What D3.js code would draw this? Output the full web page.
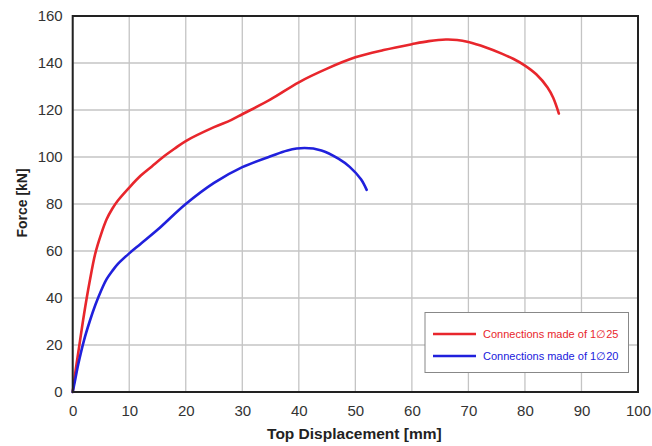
<!DOCTYPE html>
<html>
<head>
<meta charset="utf-8">
<script src="https://cdn.jsdelivr.net/npm/d3@7"></script>
<style>
  html, body { margin: 0; padding: 0; background: #fff; }
  svg { display: block; }
</style>
</head>
<body>
<svg id="chart" width="652" height="446"></svg>
<script>
// Force–displacement curves for the two connection types
const dispRed  = [0, 0.5, 1, 2, 3, 4, 5, 6, 7, 8, 10, 12, 14, 16, 18, 20, 25, 28, 30, 35, 40, 45, 50, 55, 60, 63, 66, 68, 70, 73, 76, 78, 80, 82, 84, 85, 86];
const forceRed = [0, 9, 17, 33, 47, 59, 67, 73.5, 78, 81.5, 87, 92, 96, 100, 103.5, 106.8, 112.7, 115.7, 118.2, 124.5, 131.8, 137.6, 142.4, 145.5, 148, 149.3, 150, 149.8, 148.9, 146.7, 143.9, 141.7, 138.9, 135.2, 129.6, 125.2, 118.5];

const dispBlue  = [0, 0.5, 1, 2, 3, 4, 5, 6, 7, 8, 10, 12, 15, 20, 25, 30, 35, 38, 41, 44, 47, 49, 51, 52];
const forceBlue = [0, 6, 12, 22, 30, 37, 43, 48, 51.5, 54.5, 59, 63, 69, 80, 89, 95.7, 100.3, 102.8, 103.8, 102.8, 99.3, 95.8, 90.5, 86];

const xTicks = [0, 10, 20, 30, 40, 50, 60, 70, 80, 90, 100];
const yTicks = [0, 20, 40, 60, 80, 100, 120, 140, 160];

const seriesNames  = ["Connections made of 1\u220525", "Connections made of 1\u220520"];
const seriesColors = ["#e8262c", "#2020dc"];

const svg = d3.select("#chart");
const margin = { left: 72.7, right: 14, top: 16, bottom: 54 };
const W = 652, H = 446;

const x = d3.scaleLinear().domain([0, 100]).range([margin.left, W - margin.right]);
const y = d3.scaleLinear().domain([0, 160]).range([H - margin.bottom, margin.top]);

// grid
const grid = svg.append("g");
grid.selectAll("line.v").data(xTicks).join("line")
  .attr("x1", d => x(d)).attr("x2", d => x(d))
  .attr("y1", y(0)).attr("y2", y(160))
  .attr("stroke", "#c4c4c4").attr("stroke-width", 1.3);
grid.selectAll("line.h").data(yTicks).join("line")
  .attr("x1", x(0)).attr("x2", x(100))
  .attr("y1", d => y(d)).attr("y2", d => y(d))
  .attr("stroke", "#c4c4c4").attr("stroke-width", 1.3);

// axes (labels only; the frame is drawn separately)
const xAxis = svg.append("g")
  .attr("transform", `translate(0,${y(0)})`)
  .call(d3.axisBottom(x).tickValues(xTicks).tickSize(0).tickPadding(13));
const yAxis = svg.append("g")
  .attr("transform", `translate(${x(0)},0)`)
  .call(d3.axisLeft(y).tickValues(yTicks).tickSize(0).tickPadding(10));
[xAxis, yAxis].forEach(a => {
  a.select(".domain").remove();
  a.selectAll("text")
    .attr("font-family", "'Liberation Sans', Arial, sans-serif")
    .attr("font-size", 15).attr("fill", "#333");
});

// curves
const line = d3.line().x(d => x(d[0])).y(d => y(d[1])).curve(d3.curveCatmullRom.alpha(0.5));
const series = [
  d3.zip(dispRed, forceRed),
  d3.zip(dispBlue, forceBlue)
];
svg.append("g").selectAll("path").data(series).join("path")
  .attr("d", line)
  .attr("fill", "none")
  .attr("stroke", (d, i) => seriesColors[i])
  .attr("stroke-width", 2.6)
  .attr("stroke-linejoin", "round")
  .attr("stroke-linecap", "round");

// plot frame
svg.append("rect")
  .attr("x", x(0)).attr("y", y(160))
  .attr("width", x(100) - x(0)).attr("height", y(0) - y(160))
  .attr("fill", "none").attr("stroke", "#222").attr("stroke-width", 2);

// legend
const lg = svg.append("g");
lg.append("rect")
  .attr("x", 425).attr("y", 312.5).attr("width", 203.5).attr("height", 60)
  .attr("fill", "#fff").attr("stroke", "#888").attr("stroke-width", 1);
seriesNames.forEach((name, i) => {
  const ly = 334 + i * 22;
  lg.append("line")
    .attr("x1", 433).attr("x2", 476).attr("y1", ly).attr("y2", ly)
    .attr("stroke", seriesColors[i]).attr("stroke-width", 2.6);
  lg.append("text")
    .attr("x", 483).attr("y", ly + 4)
    .attr("font-family", "'Liberation Sans', Arial, sans-serif")
    .attr("font-size", 11)
    .attr("fill", seriesColors[i])
    .text(name);
});

// axis titles
svg.append("text")
  .attr("x", (x(0) + x(100)) / 2 - 1).attr("y", 438.5)
  .attr("text-anchor", "middle")
  .attr("font-family", "'Liberation Sans', Arial, sans-serif")
  .attr("font-weight", "bold").attr("font-size", 15.5).attr("fill", "#222")
  .text("Top Displacement [mm]");
svg.append("text")
  .attr("transform", `translate(26.5,${(y(0) + y(160)) / 2 - 1}) rotate(-90)`)
  .attr("text-anchor", "middle")
  .attr("font-family", "'Liberation Sans', Arial, sans-serif")
  .attr("font-weight", "bold").attr("font-size", 14).attr("fill", "#222")
  .text("Force [kN]");
</script>
</body>
</html>
